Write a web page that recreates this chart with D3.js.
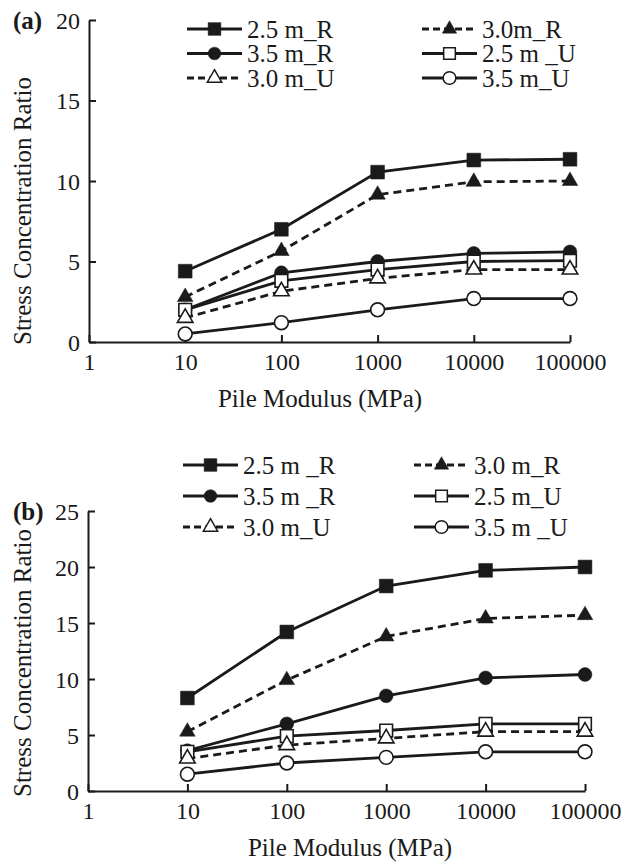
<!DOCTYPE html>
<html>
<head>
<meta charset="utf-8">
<script src="https://cdn.jsdelivr.net/npm/d3@7/dist/d3.min.js"></script>
<style>
  html, body { margin: 0; padding: 0; background: #fff; }
  svg { display: block; }
  text { font-family: "Liberation Serif", "Times New Roman", serif; fill: #1a1a1a; }
</style>
</head>
<body>
<svg id="chart" width="624" height="862"></svg>
<script>
// ---------------- DATA ----------------
const xValues = [10, 100, 1000, 10000, 100000];
const xTicks = [1, 10, 100, 1000, 10000, 100000];
const yTicksA = [0, 5, 10, 15, 20];
const yTicksB = [0, 5, 10, 15, 20, 25];
const seriesKeys = ["25R", "30R", "35R", "25U", "30U", "35U"];
const legendLabelsA = ["2.5 m_R", "3.0m_R", "3.5 m_R", "2.5 m _U", "3.0 m_U", "3.5 m_U"];
const legendLabelsB = ["2.5 m _R", "3.0 m_R", "3.5 m _R", "2.5 m_U", "3.0 m_U", "3.5 m _U"];

// Panel (a)
const a25R = [4.4, 7.0, 10.55, 11.3, 11.35];
const a30R = [2.8, 5.65, 9.15, 9.95, 10.0];
const a35R = [2.0, 4.3, 5.0, 5.5, 5.6];
const a25U = [2.0, 3.8, 4.5, 5.0, 5.05];
const a30U = [1.5, 3.15, 3.95, 4.5, 4.5];
const a35U = [0.5, 1.2, 2.0, 2.7, 2.7];

// Panel (b)
const b25R = [8.3, 14.2, 18.3, 19.7, 20.0];
const b30R = [5.3, 9.9, 13.8, 15.4, 15.7];
const b35R = [3.6, 6.0, 8.5, 10.1, 10.4];
const b25U = [3.5, 4.9, 5.4, 6.0, 6.0];
const b30U = [2.9, 4.1, 4.7, 5.3, 5.3];
const b35U = [1.5, 2.5, 3.0, 3.5, 3.5];

const yTitle = "Stress Concentration Ratio";
const xTitle = "Pile Modulus (MPa)";

// ---------------- STYLE ----------------
const styles = {
  "25R": { shape: d3.symbolSquare, size: 190, filled: true, dashed: false },
  "30R": { shape: d3.symbolTriangle, size: 105, filled: true, dashed: true },
  "35R": { shape: d3.symbolCircle, size: 150, filled: true, dashed: false },
  "25U": { shape: d3.symbolSquare, size: 160, filled: false, dashed: false },
  "30U": { shape: d3.symbolTriangle, size: 105, filled: false, dashed: true },
  "35U": { shape: d3.symbolCircle, size: 150, filled: false, dashed: false }
};
const ink = "#1a1a1a";

const svg = d3.select("#chart");

function drawPanel(cfg) {
  const g = svg.append("g");
  const x = d3.scaleLog().domain([1, 100000]).range([cfg.x0, cfg.x1]);
  const y = d3.scaleLinear().domain([0, cfg.yMax]).range([cfg.y0, cfg.y1]);

  // axes
  const xAxis = d3.axisBottom(x).tickValues(xTicks).tickFormat(d3.format("d")).tickSizeInner(-7).tickSizeOuter(0).tickPadding(0);
  const gx = g.append("g").attr("transform", `translate(0,${cfg.y0})`).call(xAxis);
  gx.select(".domain").attr("stroke", ink).attr("stroke-width", 2);
  gx.selectAll(".tick line").attr("stroke", ink).attr("stroke-width", 2);
  gx.selectAll(".tick text").attr("font-size", 24).attr("font-family", "Liberation Serif, serif")
    .attr("fill", ink).attr("y", 28).attr("dy", 0);

  const yAxis = d3.axisLeft(y).tickValues(cfg.yTicks).tickSizeInner(-7).tickSizeOuter(0).tickPadding(0);
  const gy = g.append("g").attr("transform", `translate(${cfg.x0},0)`).call(yAxis);
  gy.select(".domain").attr("stroke", ink).attr("stroke-width", 2);
  gy.selectAll(".tick line").attr("stroke", ink).attr("stroke-width", 2);
  gy.selectAll(".tick text").attr("font-size", 24).attr("font-family", "Liberation Serif, serif")
    .attr("fill", ink).attr("x", -9).attr("dy", "0.34em");

  // titles
  g.append("text").attr("x", cfg.xTitleX).attr("y", cfg.y0 + 65).attr("text-anchor", "middle")
    .attr("font-size", 25).text(xTitle);
  g.append("text").attr("transform", `translate(31,${cfg.yTitleY}) rotate(-90)`).attr("text-anchor", "middle")
    .attr("font-size", 25).text(yTitle);
  g.append("text").attr("x", 13).attr("y", cfg.y1 + 9).attr("font-size", 25).attr("font-weight", "bold")
    .text(cfg.tag);

  // lines
  const line = d3.line().x((d, i) => x(xValues[i])).y(d => y(d));
  seriesKeys.forEach((k, si) => {
    const st = styles[k];
    g.append("path").datum(cfg.data[si]).attr("d", line).attr("fill", "none")
      .attr("stroke", ink).attr("stroke-width", 2.8)
      .attr("stroke-dasharray", st.dashed ? "8,5" : null);
  });
  // markers
  seriesKeys.forEach((k, si) => {
    const st = styles[k];
    g.append("g").selectAll("path").data(cfg.data[si]).join("path")
      .attr("transform", (d, i) => `translate(${x(xValues[i])},${y(d)})`)
      .attr("d", d3.symbol().type(st.shape).size(st.size))
      .attr("fill", st.filled ? ink : "#fff")
      .attr("stroke", ink).attr("stroke-width", st.filled ? 0.5 : 1.6);
  });

  // legend
  seriesKeys.forEach((k, si) => {
    const st = styles[k];
    const col = si % 2, row = Math.floor(si / 2);
    const lx0 = cfg.leg.cols[col], lx1 = lx0 + cfg.leg.len;
    const ly = cfg.leg.rows[row];
    g.append("line").attr("x1", lx0).attr("x2", lx1).attr("y1", ly).attr("y2", ly)
      .attr("stroke", ink).attr("stroke-width", 2.8)
      .attr("stroke-dasharray", st.dashed ? "7,4" : null);
    g.append("path").attr("transform", `translate(${(lx0 + lx1) / 2},${ly})`)
      .attr("d", d3.symbol().type(st.shape).size(st.size * 0.85))
      .attr("fill", st.filled ? ink : "#fff")
      .attr("stroke", ink).attr("stroke-width", st.filled ? 0.5 : 1.5);
    g.append("text").attr("x", lx1 + 5).attr("y", ly + 8.5).attr("font-size", 25)
      .text(cfg.labels[si]);
  });
}

drawPanel({
  tag: "(a)", x0: 89, x1: 570, y0: 342, y1: 20, yMax: 20, yTicks: yTicksA,
  xTitleX: 320, yTitleY: 211,
  data: [a25R, a30R, a35R, a25U, a30U, a35U], labels: legendLabelsA,
  leg: { cols: [187, 422], len: 55, rows: [29, 53.5, 78] }
});
drawPanel({
  tag: "(b)", x0: 88, x1: 585, y0: 791, y1: 511, yMax: 25, yTicks: yTicksB,
  xTitleX: 350, yTitleY: 663,
  data: [b25R, b30R, b35R, b25U, b30U, b35U], labels: legendLabelsB,
  leg: { cols: [183, 414], len: 55, rows: [465, 496, 527] }
});
</script>
</body>
</html>
